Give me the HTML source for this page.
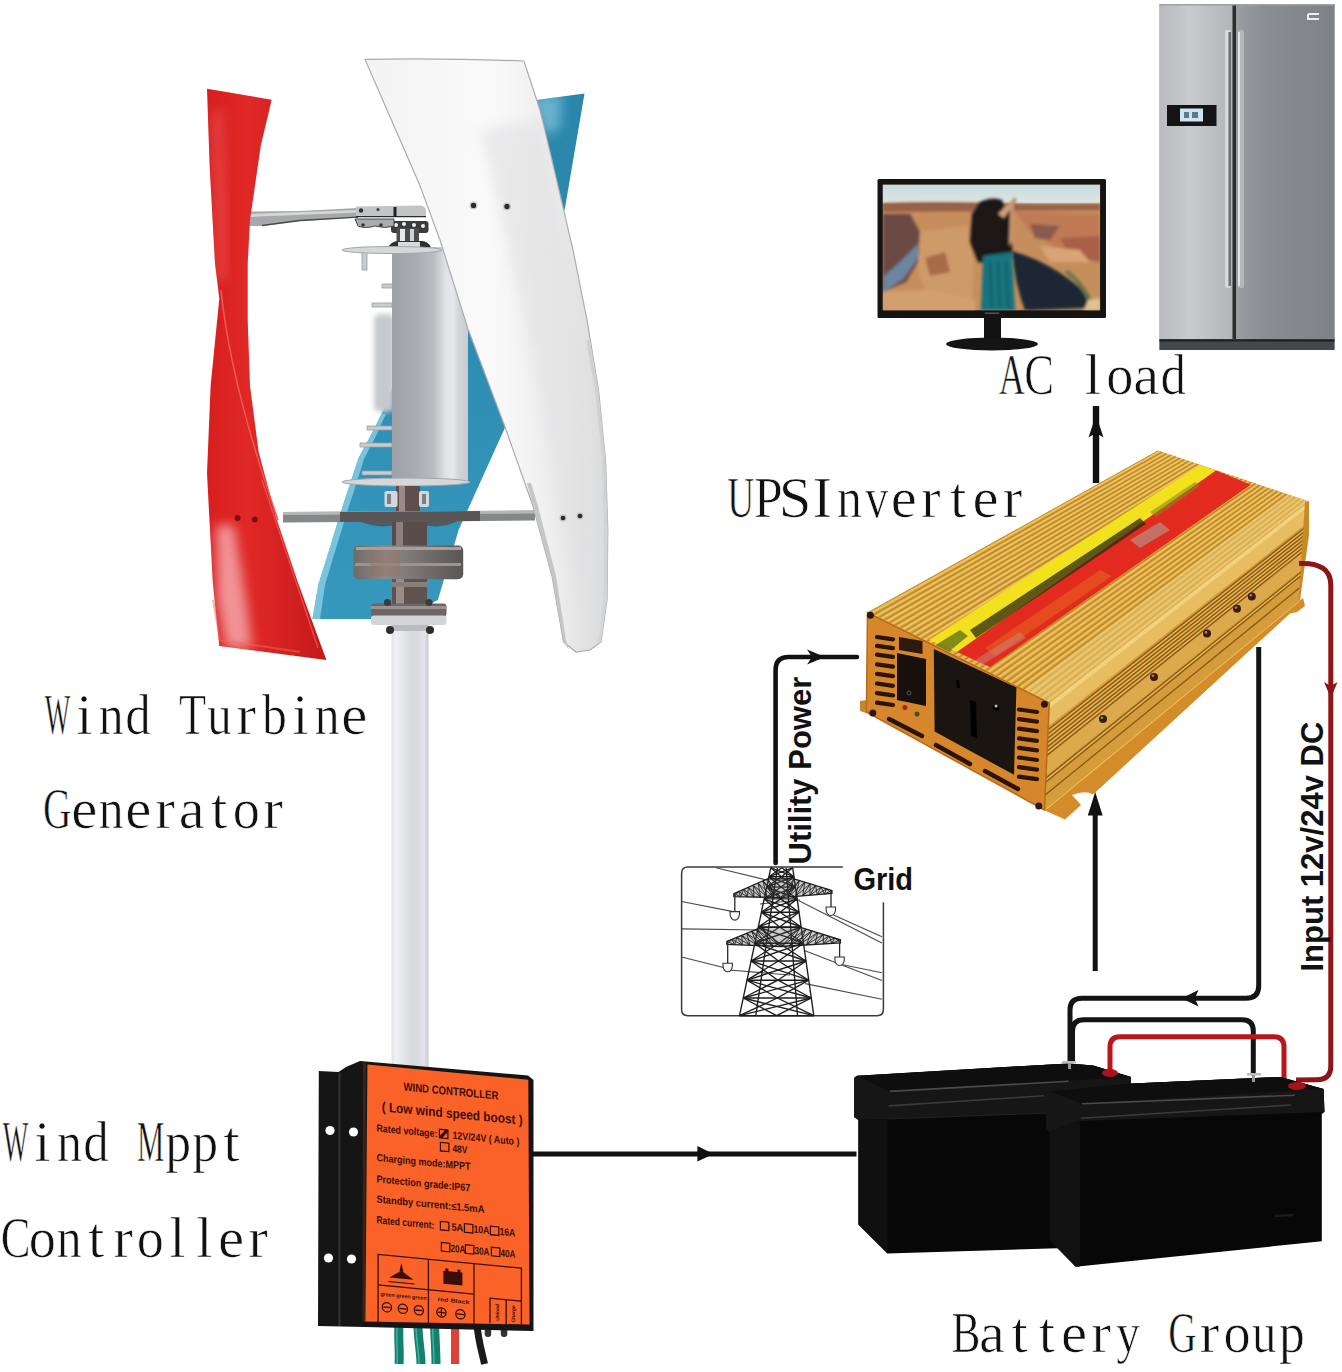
<!DOCTYPE html>
<html><head><meta charset="utf-8"><title>Wind turbine system</title><style>
html,body{margin:0;padding:0;background:#fff;overflow:hidden;}
svg{display:block}
</style></head><body>
<svg width="1342" height="1372" viewBox="0 0 1342 1372">
<defs>
  <linearGradient id="gRed" x1="0" y1="0" x2="1" y2="0">
    <stop offset="0" stop-color="#d81f1f"/>
    <stop offset="0.35" stop-color="#e02826"/>
    <stop offset="1" stop-color="#c41a1a"/>
  </linearGradient>
  <linearGradient id="gBlue" x1="0" y1="0" x2="0" y2="1">
    <stop offset="0" stop-color="#2a86ab"/>
    <stop offset="0.5" stop-color="#2e8db3"/>
    <stop offset="1" stop-color="#3798be"/>
  </linearGradient>
  <linearGradient id="gWhite" x1="0" y1="0" x2="1" y2="0">
    <stop offset="0" stop-color="#f3f3f3"/>
    <stop offset="0.5" stop-color="#fafafa"/>
    <stop offset="0.8" stop-color="#ededed"/>
    <stop offset="1" stop-color="#d9d9d9"/>
  </linearGradient>
  <linearGradient id="gCyl" x1="0" y1="0" x2="1" y2="0">
    <stop offset="0" stop-color="#9da1a7"/>
    <stop offset="0.3" stop-color="#a8acb1"/>
    <stop offset="0.55" stop-color="#b9bcc1"/>
    <stop offset="0.7" stop-color="#dfe1e4"/>
    <stop offset="0.8" stop-color="#e6e8eb"/>
    <stop offset="0.88" stop-color="#d2d4d8"/>
    <stop offset="1" stop-color="#c9cbce"/>
  </linearGradient>
  <linearGradient id="gPole" x1="0" y1="0" x2="1" y2="0">
    <stop offset="0" stop-color="#e2e3e6"/>
    <stop offset="0.12" stop-color="#eff0f3"/>
    <stop offset="0.35" stop-color="#e3e3e7"/>
    <stop offset="0.55" stop-color="#d8d9dd"/>
    <stop offset="0.75" stop-color="#dddce3"/>
    <stop offset="0.88" stop-color="#e5e3ec"/>
    <stop offset="0.96" stop-color="#d2d2d6"/>
    <stop offset="1" stop-color="#c6c6ca"/>
  </linearGradient>
  <linearGradient id="gMetal" x1="0" y1="0" x2="0" y2="1">
    <stop offset="0" stop-color="#8c8c8c"/>
    <stop offset="0.4" stop-color="#a5a5a5"/>
    <stop offset="1" stop-color="#5e5e5e"/>
  </linearGradient>
  <linearGradient id="gDisc" x1="0" y1="0" x2="1" y2="0">
    <stop offset="0" stop-color="#6d6a68"/>
    <stop offset="0.3" stop-color="#8f8b88"/>
    <stop offset="0.6" stop-color="#77726f"/>
    <stop offset="1" stop-color="#5a5654"/>
  </linearGradient>
  <linearGradient id="gFridgeL" x1="0" y1="0" x2="1" y2="0">
    <stop offset="0" stop-color="#b9babd"/>
    <stop offset="0.4" stop-color="#c9cacd"/>
    <stop offset="1" stop-color="#b2b4b7"/>
  </linearGradient>
  <linearGradient id="gFridgeR" x1="0" y1="0" x2="1" y2="0">
    <stop offset="0" stop-color="#9a9da1"/>
    <stop offset="0.3" stop-color="#8a8e92"/>
    <stop offset="1" stop-color="#7e8286"/>
  </linearGradient>
  <linearGradient id="gCanyon" x1="0" y1="0" x2="0" y2="1">
    <stop offset="0" stop-color="#a9866a"/>
    <stop offset="0.5" stop-color="#b97f52"/>
    <stop offset="1" stop-color="#c08a5e"/>
  </linearGradient>
  <linearGradient id="gSky" x1="0" y1="0" x2="0" y2="1">
    <stop offset="0" stop-color="#c7dbe0"/>
    <stop offset="1" stop-color="#dfe6e2"/>
  </linearGradient>
  <linearGradient id="gGoldTop" x1="0" y1="0" x2="1" y2="1">
    <stop offset="0" stop-color="#d9a23c"/>
    <stop offset="1" stop-color="#e6b55a"/>
  </linearGradient>
  <linearGradient id="gGoldSide" x1="0" y1="0" x2="0" y2="1">
    <stop offset="0" stop-color="#d4982f"/>
    <stop offset="1" stop-color="#c2841f"/>
  </linearGradient>
  <linearGradient id="gOrange" x1="0" y1="0" x2="1" y2="1">
    <stop offset="0" stop-color="#ff6a2c"/>
    <stop offset="1" stop-color="#f7622a"/>
  </linearGradient>
  <filter id="blur3" x="-30%" y="-30%" width="160%" height="160%"><feGaussianBlur stdDeviation="6"/></filter>
  <filter id="blur2" x="-40%" y="-20%" width="180%" height="140%"><feGaussianBlur stdDeviation="2.5"/></filter>
</defs>
<rect x="0" y="0" width="1342" height="1372" fill="#ffffff"/>

<!-- blue blade (back) -->
<path d="M533,100.6 L584.5,93.6 L565.5,205 L545,300 L520,390 L505.3,427 L458.6,530 L437.9,600 L400,619 L312.4,619 L318.5,584 L327,557 L336,527.7 L343,505 L350,484 L358.7,457.7 L371,435 L381.5,414 L395,380 L430,300 L462,230 L490,160 L515,120 Z" fill="url(#gBlue)"/>
<clipPath id="bclip"><path d="M533,100.6 L584.5,93.6 L565.5,205 L520,205 Z"/></clipPath><g clip-path="url(#bclip)"><path d="M530,96 L562,94 L560,128 L545,136 Z" fill="#8ccbe2" opacity="0.65" filter="url(#blur3)"/></g>
<path d="M312.4,619 L318.5,584 L327,557 L336,527.7 L343,505 L350,484 L358.7,457.7 L371,435 L381.5,414 L386,414 L376,436 L364,459 L356,485 L349,506 L342,529 L333,558 L325,585 L320,619 Z" fill="#8fd3e8" opacity="0.75"/>
<!-- generator fins left of cylinder -->
<g fill="#c9cbce" stroke="#9a9da0" stroke-width="0.8">
  <rect x="374" y="314" width="20" height="98" rx="6" fill="#c6c9cd" stroke="none" filter="url(#blur2)"/>
  <path d="M382,284 h11 v4 h-11 z"/>
  <path d="M372,303 h20 v4 h-20 z"/>
  <path d="M367,426 h25 v4 h-25 z"/>
  <path d="M360,443 h32 v4 h-32 z"/>
  <path d="M362,471 h30 v4 h-30 z"/>
  <rect x="362" y="250" width="5" height="20"/>
</g>
<!-- top hub neck -->
<rect x="391" y="221" width="37.5" height="12" rx="3" fill="#3a3b3d"/>
<rect x="396.5" y="228" width="22.5" height="16" fill="#4a4c4f"/>
<rect x="400" y="229" width="5" height="14" fill="#e8e9ea"/>
<rect x="410" y="229" width="4" height="14" fill="#d0d2d4"/>
<path d="M388,247.5 Q392,240 400,241 L420,241 Q428,240 431,247.5 Z" fill="#2e2f31"/>
<rect x="398" y="242" width="22" height="5" fill="#d9dadb"/>
<circle cx="396" cy="225" r="2" fill="#f0f0f0"/><circle cx="404" cy="224" r="2" fill="#f0f0f0"/><circle cx="414" cy="225" r="2" fill="#f0f0f0"/><circle cx="423" cy="226" r="2" fill="#f0f0f0"/>
<!-- cylinder -->
<rect x="392" y="247" width="76" height="236" fill="url(#gCyl)"/>
<!-- top disc -->
<ellipse cx="392" cy="250" rx="50" ry="3.5" fill="#d5d7d9" stroke="#a3a6a9" stroke-width="1"/>
<!-- bottom disc -->
<ellipse cx="406" cy="482" rx="64" ry="4" fill="#d5d7d9" stroke="#a3a6a9" stroke-width="1"/>
<!-- top arm -->
<path d="M246,211.5 L300,211 L358,208 L358,217.5 L300,221 L262,226 L246,226 Z" fill="#a6a8ab"/>
<path d="M250,214 L358,210 L358,212.5 L250,217 Z" fill="#d4d6d8"/>
<path d="M262,225.5 L300,220.5 L358,217.2" stroke="#4a4a4a" stroke-width="1.3" fill="none"/>
<ellipse cx="247" cy="218.5" rx="3" ry="7.5" fill="#c7c9cb"/>
<!-- top hub bracket -->
<path d="M356,206.5 L420,205.5 Q426,206 426,211 L426,216.6 L356,216.6 Z" fill="#c2c4c6"/>
<path d="M356,216.6 L426,216.6" stroke="#2a2a2a" stroke-width="1.4"/>
<circle cx="361" cy="210.5" r="2.2" fill="#333"/><circle cx="378" cy="209.5" r="1.6" fill="#444"/>
<rect x="393.5" y="207" width="3" height="9.5" fill="#222"/>
<path d="M355,219 L394,219 L394,226 Q385,229 375,226 Q365,229 358,226 Z" fill="#a9abad" stroke="#3a3a3a" stroke-width="0.9"/>
<circle cx="363" cy="225" r="1.8" fill="#333"/><circle cx="381" cy="225" r="1.8" fill="#333"/>
<!-- red blade -->
<path d="M207,88.7 L209.7,167.5 L215,263.6 L219.3,298.6 L210.6,386 L207,473.5 L212.8,582.8 L219.3,646 L326.4,660 L298,582.8 L276,517.2 L258.6,451.7 L250,386 L247.7,320.5 L247.7,263.6 L250,220 L260.8,145.6 L271.7,99.7 Z" fill="url(#gRed)"/>
<clipPath id="rclip"><path d="M207,88.7 L209.7,167.5 L215,263.6 L219.3,298.6 L210.6,386 L207,473.5 L212.8,582.8 L219.3,646 L326.4,660 L298,582.8 L276,517.2 L258.6,451.7 L250,386 L247.7,320.5 L247.7,263.6 L250,220 L260.8,145.6 L271.7,99.7 Z"/></clipPath>
<g clip-path="url(#rclip)">
<path d="M216,525 L234,525 L246,600 L252,648 L226,648 L217,600 Z" fill="#f5b0b4" opacity="0.8" filter="url(#blur3)"/>
<path d="M212,110 L222,110 L226,200 L226,280 L216,280 Z" fill="#ec5a58" opacity="0.6" filter="url(#blur3)"/>
</g>
<path d="M221,290 C228,360 250,440 278,520" stroke="#ee5a55" stroke-width="1.5" fill="none"/>
<path d="M262,480 L318,648" stroke="#f06058" stroke-width="1.2" fill="none" opacity="0.8"/>
<path d="M213,600 L220,640 L300,652" stroke="#f06a60" stroke-width="2" fill="none" opacity="0.5"/>
<circle cx="237.6" cy="518" r="3" fill="#7a1010"/>
<circle cx="254.8" cy="519.5" r="3" fill="#7a1010"/>
<!-- shaft below cylinder -->
<rect x="396" y="486" width="24" height="30" fill="#5e4f4c"/>
<rect x="399" y="486" width="6" height="30" fill="#9a8a86"/>
<rect x="384.5" y="491" width="13" height="16" rx="2" fill="#d4d8dc"/>
<rect x="419" y="491" width="10" height="16" rx="2" fill="#d4d8dc"/>
<rect x="387" y="494" width="4" height="10" fill="#7a8088"/>
<rect x="422" y="494" width="4" height="10" fill="#7a8088"/>
<!-- lower arm -->
<path d="M283,512 L535,510.5 L535,520.5 L283,522.5 Z" fill="#858789"/>
<path d="M283,512 L535,510.5 L535,513.5 L283,515 Z" fill="#b4b6b8"/>
<path d="M340,512 L480,511 L480,521 L340,522 Z" fill="#5a5452"/>
<path d="M358,521 Q380,530 400,524 Q410,528 420,524 Q440,530 458,521 Z" fill="#4e5a66"/>
<rect x="392" y="522" width="35" height="25" fill="#5a4c49"/>
<rect x="396" y="522" width="7" height="25" fill="#8e807c"/>
<!-- hub disc -->
<rect x="353.5" y="545.6" width="109.7" height="33.6" rx="5" fill="url(#gDisc)"/>
<rect x="356" y="547" width="105" height="3" fill="#a8a09c"/>
<rect x="355" y="563" width="106" height="3" fill="#9c928e"/>
<rect x="370" y="550" width="30" height="26" fill="#9a6a5c" opacity="0.35"/>
<!-- shaft to flange -->
<rect x="392" y="579" width="35" height="25" fill="#5f524f"/>
<rect x="396" y="579" width="8" height="25" fill="#9a8c88"/>
<rect x="392" y="582" width="35" height="5" fill="#8a7e7a"/>
<!-- flange -->
<rect x="371" y="603.5" width="75.5" height="13" rx="3" fill="#6e6664"/>
<rect x="371" y="606" width="75.5" height="3" fill="#9a9290"/>
<rect x="371" y="615.5" width="75.5" height="9.5" rx="3" fill="#d3d4d6"/>
<circle cx="387.5" cy="602.5" r="3.6" fill="#3c3a3a"/>
<circle cx="429" cy="602.5" r="3.6" fill="#3c3a3a"/>
<!-- white blade (front) -->
<path d="M365,59.4 Q440,58 523.9,61 L540,110 L556.6,180 L573,250 L587,320 L598.5,390 L605.5,460 L607.8,530 L607,600 L601,642 L590,650 L576,652 L563.5,642 L552,576 L533,506 L505,427 L468,329 L440,240 L419.5,184.4 Z" fill="url(#gWhite)" stroke="#a9abad" stroke-width="1.2"/>
<path d="M590,340 L598.5,390 L605.5,460 L607.8,530 L607,600 L601,642 L598,644 L603,600 L604,530 L602,460 L595,390 L586,340 Z" fill="#cfd1d3"/>
<path d="M527,483 L533,506 L552,576 L563.5,642 L569,650 L566,640 L556,576 L538,506 L531,483 Z" fill="#c4c6c8"/>
<clipPath id="wclip"><path d="M365,59.4 Q440,58 523.9,61 L540,110 L556.6,180 L573,250 L587,320 L598.5,390 L605.5,460 L607.8,530 L607,600 L601,642 L590,650 L576,652 L563.5,642 L552,576 L533,506 L505,427 L468,329 L440,240 L419.5,184.4 Z"/></clipPath>
<g clip-path="url(#wclip)"><path d="M480,130 Q525,300 560,520 Q585,600 590,640 L604,640 Q604,560 600,480 Q590,380 566,240 L545,120 Z" fill="#dfe0e2" opacity="0.6" filter="url(#blur3)"/></g>
<g fill="#2a2a2a" stroke="#c8c8c8" stroke-width="1.3">
<circle cx="473.5" cy="205.4" r="3.3"/>
<circle cx="507" cy="206.5" r="3.3"/>
<circle cx="563" cy="518" r="3"/>
<circle cx="580" cy="516" r="3"/>
</g>

<!-- pole -->
<rect x="391.5" y="625" width="37" height="445" fill="url(#gPole)"/>
<rect x="391.5" y="625" width="37" height="6" fill="#b9bbbe"/>
<circle cx="390" cy="630" r="4" fill="#2e2c2c"/>
<circle cx="430" cy="630" r="4" fill="#2e2c2c"/>

<!-- controller wires -->
<g stroke-linecap="butt" fill="none">
  <path d="M399,1324 C398,1340 400,1352 399,1364" stroke="#14806f" stroke-width="9"/>
  <path d="M418,1324 C418,1340 421,1352 421,1364" stroke="#14806f" stroke-width="9"/>
  <path d="M434.5,1324 C435,1340 436,1352 436,1364" stroke="#14806f" stroke-width="9"/>
  <path d="M455,1324 L455,1364" stroke="#e0403a" stroke-width="8"/>
  <path d="M477,1324 C478,1340 482,1352 484.5,1364" stroke="#1a1a1a" stroke-width="7"/>
  <path d="M397,1326 C396,1340 398,1352 397,1364" stroke="#3fb3a0" stroke-width="1.5"/>
  <path d="M416,1326 C416,1340 419,1352 419,1364" stroke="#3fb3a0" stroke-width="1.5"/>
  <path d="M432.5,1326 C433,1340 434,1352 434,1364" stroke="#3fb3a0" stroke-width="1.5"/>
</g>
<rect x="484.7" y="1327" width="6.5" height="10" rx="3" fill="#333"/>
<rect x="500.8" y="1327" width="6.5" height="10" rx="3" fill="#333"/>
<!-- black body / bracket -->
<path d="M318.8,1071 L338.5,1072 L346,1067 L360,1061 L528,1075.5 L533.5,1080 L533.5,1331 L365,1327 L318,1326 Z" fill="#151515"/>
<path d="M338.5,1073 L340.5,1072 L340.5,1326 L338.5,1326 Z" fill="#333"/>
<path d="M363,1062 L366,1063 L365,1322 L362.5,1322 Z" fill="#3a2418"/>
<circle cx="330" cy="1130.5" r="4.6" fill="#ffffff"/>
<circle cx="353.5" cy="1132" r="4.6" fill="#ffffff"/>
<circle cx="328.5" cy="1258" r="4.6" fill="#ffffff"/>
<circle cx="351.5" cy="1259" r="4.6" fill="#ffffff"/>
<!-- orange face -->
<path d="M367.4,1064.4 L528.3,1079.8 L529.5,1324.5 L365.4,1321.5 Z" fill="#fb6228"/>
<g transform="translate(367.4,1064.4) skewY(5.46)" font-family="Liberation Sans" font-weight="bold" fill="#3a0e06">
  <text x="83.5" y="22.7" font-size="11.5" text-anchor="middle" textLength="95" lengthAdjust="spacingAndGlyphs">WIND CONTROLLER</text>
  <text x="84.8" y="45.5" font-size="13.5" text-anchor="middle" textLength="141" lengthAdjust="spacingAndGlyphs">( Low wind speed boost )</text>
  <g font-size="10.5">
    <text x="9" y="66.3" textLength="61" lengthAdjust="spacingAndGlyphs">Rated voltage:</text>
    <rect x="72" y="58" width="8.5" height="8.5" fill="none" stroke="#2a0c04" stroke-width="1.2"/>
    <path d="M73,66 L80,58" stroke="#2a0c04" stroke-width="3"/>
    <text x="85" y="66.3" textLength="67" lengthAdjust="spacingAndGlyphs">12V/24V ( Auto )</text>
    <rect x="73" y="71" width="8.5" height="8.5" fill="none" stroke="#2a0c04" stroke-width="1.2"/>
    <text x="85" y="79.5" textLength="15" lengthAdjust="spacingAndGlyphs">48V</text>
    <text x="9" y="95.8" textLength="94" lengthAdjust="spacingAndGlyphs">Charging mode:MPPT</text>
    <text x="9" y="117.2" textLength="94" lengthAdjust="spacingAndGlyphs">Protection grade:IP67</text>
    <text x="9" y="137.3" textLength="108" lengthAdjust="spacingAndGlyphs">Standby current:≤1.5mA</text>
    <text x="9" y="158.1" textLength="58" lengthAdjust="spacingAndGlyphs">Rated current:</text>
    <rect x="73" y="150" width="8.5" height="8.5" fill="none" stroke="#2a0c04" stroke-width="1.2"/>
    <text x="84" y="158.1" textLength="12" lengthAdjust="spacingAndGlyphs">5A</text>
    <rect x="97" y="150" width="8.5" height="8.5" fill="none" stroke="#2a0c04" stroke-width="1.2"/>
    <text x="106" y="158.1" textLength="16" lengthAdjust="spacingAndGlyphs">10A</text>
    <rect x="123" y="150" width="8.5" height="8.5" fill="none" stroke="#2a0c04" stroke-width="1.2"/>
    <text x="132" y="158.1" textLength="16" lengthAdjust="spacingAndGlyphs">16A</text>
    <rect x="74" y="171" width="8.5" height="8.5" fill="none" stroke="#2a0c04" stroke-width="1.2"/>
    <text x="83" y="179.4" textLength="15" lengthAdjust="spacingAndGlyphs">20A</text>
    <rect x="98" y="171" width="8.5" height="8.5" fill="none" stroke="#2a0c04" stroke-width="1.2"/>
    <text x="107" y="179.4" textLength="15" lengthAdjust="spacingAndGlyphs">30A</text>
    <rect x="124" y="171" width="8.5" height="8.5" fill="none" stroke="#2a0c04" stroke-width="1.2"/>
    <text x="133" y="179.4" textLength="15" lengthAdjust="spacingAndGlyphs">40A</text>
  </g>
  <!-- bottom table -->
  <g fill="none" stroke="#3a0e04" stroke-width="1.3">
    <path d="M10.7,258 L10.7,189 L154,189 L154,245"/>
    <path d="M61,189 L61,255"/>
    <path d="M106.6,189 L106.6,250"/>
    <path d="M10.7,219.5 L106.6,219.5"/>
    <path d="M122.6,247 L122.6,222 L154,222"/>
    <path d="M138.8,222 L138.8,247"/>
  </g>
  <!-- turbine icon -->
  <path d="M34,195 L36,204 L32,204 Z M22,211 L34,203 L46,211 Z" fill="#3a0e06"/>
  <path d="M21,215 L47,215" stroke="#2a0c04" stroke-width="1"/>
  <!-- battery icon -->
  <rect x="76" y="199" width="19" height="13" fill="#3a0e06"/>
  <rect x="78" y="196.5" width="3" height="3" fill="#3a0e06"/>
  <rect x="90" y="196.5" width="3" height="3" fill="#3a0e06"/>
  <g font-size="5.5" fill="#3a0e06">
    <text x="13" y="230" textLength="46" lengthAdjust="spacingAndGlyphs">green green green</text>
    <text x="70" y="230" textLength="32" lengthAdjust="spacingAndGlyphs">red  Black</text>
  </g>
  <g fill="none" stroke="#2a0c04" stroke-width="1.3">
    <circle cx="19.5" cy="241" r="4.6"/>
    <circle cx="35.5" cy="241" r="4.6"/>
    <circle cx="51.5" cy="241" r="4.6"/>
    <circle cx="74" cy="241" r="4.6"/>
    <circle cx="93" cy="241" r="4.6"/>
    <path d="M16,241 h7 M32,241 h7 M48,241 h7 M70.5,241 h7 M74,237.5 v7 M89.5,241 h7"/>
  </g>
  <g font-size="5" fill="#3a0e06">
    <text transform="translate(132,244) rotate(-90)">Unload</text>
    <text transform="translate(148,244) rotate(-90)">Charge</text>
  </g>
</g>

<!-- monitor -->
<rect x="984" y="316" width="17" height="25" fill="#111"/>
<ellipse cx="992" cy="344" rx="46" ry="6.5" fill="#141414"/>
<rect x="877.5" y="179" width="228.5" height="139" rx="1.5" fill="#141414"/>
<clipPath id="scr"><rect x="882.6" y="184.5" width="217.6" height="126"/></clipPath>
<filter id="blur1" x="-10%" y="-10%" width="120%" height="120%"><feGaussianBlur stdDeviation="1.6"/></filter>
<g clip-path="url(#scr)">
  <rect x="882.6" y="184.5" width="217.6" height="126" fill="#c68e5c"/>
  <rect x="882.6" y="184.5" width="217.6" height="19" fill="url(#gSky)"/>
  <g filter="url(#blur1)">
    <path d="M882.6,203 Q940,201 990,203 T1100.4,204 L1100.4,210 L882.6,212 Z" fill="#96624a"/>
    <!-- right canyon textures -->
    <path d="M1015,212 L1100,214 L1100,262 L1060,250 L1030,232 Z" fill="#c07a52"/>
    <path d="M1030,224 L1060,226 L1050,240 L1035,238 Z" fill="#8a5a50"/>
    <path d="M1060,238 L1100,236 L1100,262 L1070,256 Z" fill="#a86048"/>
    <path d="M1040,246 L1080,250 L1090,262 L1050,262 Z" fill="#d8a476"/>
    <!-- left dark area -->
    <path d="M882.6,214 L910,214 L920,232 L918,262 L906,282 L882.6,292 Z" fill="#6a4a42"/>
    <path d="M884,276 L900,262 L918,244 L918,258 L904,278 L884,292 Z" fill="#6c86a0"/>
    <!-- front rock -->
    <path d="M920,232 L968,226 L974,262 L972,300 L930,300 L918,272 Z" fill="#cf9a6a"/>
    <path d="M925,258 L945,252 L950,272 L930,276 Z" fill="#a86a4a"/>
    <path d="M882.6,292 L930,290 L975,300 L975,310.5 L882.6,310.5 Z" fill="#d2a070"/>
    <!-- dark river right -->
    <path d="M1012,251 Q1050,262 1080,288 Q1090,300 1088,308 L1025,310.5 Q1015,285 1012,251 Z" fill="#1f2734"/>
    <path d="M1064,272 Q1084,288 1090,306 L1094,306 Q1088,286 1068,270 Z" fill="#6a7448"/>
    <path d="M1088,300 L1100.4,298 L1100.4,310.5 L1084,310.5 Z" fill="#e2c292"/>
  </g>
  <!-- woman -->
  <g filter="url(#blur1)">
    <path d="M980,202 Q992,196 1002,200 L1006,212 L1012,200 L1016,198 L1014,214 L1011,236 L1013,258 L1004,264 L990,264 L978,262 L970,242 L972,214 Z" fill="#1d1513"/>
    <path d="M998,214 L1013,199 L1016,201 L1004,218 Z" fill="#d0a07c"/>
    <path d="M1010,205 L1015,200 L1013,240 L1009,246 Z" fill="#c8946e"/>
    <path d="M983,256 L1012,252 L1015,310.5 L981,310.5 Z" fill="#157480"/>
    <path d="M990,262 L992,308 M998,262 L1000,308 M1006,262 L1008,308" stroke="#0c4c56" stroke-width="1.4"/>
  </g>
</g>
<rect x="985" y="312.5" width="14" height="1.5" fill="#555"/>

<!-- fridge -->
<rect x="1159.5" y="4" width="175" height="346" fill="#8f9296"/>
<rect x="1159.5" y="4" width="74" height="336" fill="url(#gFridgeL)"/>
<rect x="1235.5" y="4" width="99" height="336" fill="url(#gFridgeR)"/>
<rect x="1232.5" y="4" width="3.5" height="336" fill="#2a2c2e"/>
<rect x="1159.5" y="339" width="175" height="11" fill="#45484b"/><rect x="1159.5" y="339.5" width="175" height="2" fill="#1e1f20"/>
<rect x="1159.5" y="4" width="175" height="1.5" fill="#9fa2a5"/>
<!-- handles -->
<rect x="1225" y="30" width="6" height="258" rx="2" fill="#d7d9db"/>
<rect x="1228.5" y="32" width="2.5" height="254" fill="#6c6f72"/>
<rect x="1238" y="30" width="6" height="258" rx="2" fill="#b4b7ba"/>
<rect x="1238" y="32" width="2" height="254" fill="#e2e4e6"/>
<!-- display -->
<rect x="1167" y="105" width="49.5" height="21" fill="#141416"/>
<rect x="1180" y="108.5" width="23" height="13" fill="#cfe4ee"/>
<rect x="1184" y="112" width="5" height="6" fill="#5a7a90"/>
<rect x="1192" y="112" width="6" height="6" fill="#5a7a90"/>
<!-- logo -->
<path d="M1308,14 h11 M1308,14 v5 h11" stroke="#eceef0" stroke-width="2" fill="none"/>

<!-- inverter -->
<path d="M860,701 L866.4,700 L866.4,713 L860,711 Z" fill="#c9862a"/>
<path d="M1044.4,810 L1298.5,601.5 L1303,598 L1305,606 L1297,612 L1290,613.5 L1093,794.5 Q1085,790 1072,795 L1081,805 L1065,819.5 L1046,811 Z" fill="#d48c2a"/>
<path d="M1046,809 L1298.5,601.5" stroke="#f2c462" stroke-width="1.6"/>
<path d="M867.5,612.5 L1158.0,450.5 L1309.0,501.5 L1049.3,703.0 Z" fill="#dcab4c"/>
<clipPath id="topclip"><path d="M867.5,612.5 L1158.0,450.5 L1309.0,501.5 L1049.3,703.0 Z"/></clipPath>
<g clip-path="url(#topclip)"><path d="M867.5,612.5 L1158.0,450.5 M872.8,615.2 L1162.4,452.0 M878.2,617.8 L1166.9,453.5 M883.5,620.5 L1171.3,455.0 M888.9,623.1 L1175.8,456.5 M894.2,625.8 L1180.2,458.0 M899.6,628.5 L1184.6,459.5 M904.9,631.1 L1189.1,461.0 M910.3,633.8 L1193.5,462.5 M915.6,636.5 L1198.0,464.0 M921.0,639.1 L1202.4,465.5 M926.3,641.8 L1206.9,467.0 M931.7,644.4 L1211.3,468.5 M937.0,647.1 L1215.7,470.0 M942.4,649.8 L1220.2,471.5 M947.7,652.4 L1224.6,473.0 M953.1,655.1 L1229.1,474.5 M958.4,657.8 L1233.5,476.0 M963.7,660.4 L1237.9,477.5 M969.1,663.1 L1242.4,479.0 M974.4,665.7 L1246.8,480.5 M979.8,668.4 L1251.3,482.0 M985.1,671.1 L1255.7,483.5 M990.5,673.7 L1260.1,485.0 M995.8,676.4 L1264.6,486.5 M1001.2,679.0 L1269.0,488.0 M1006.5,681.7 L1273.5,489.5 M1011.9,684.4 L1277.9,491.0 M1017.2,687.0 L1282.4,492.5 M1022.6,689.7 L1286.8,494.0 M1027.9,692.4 L1291.2,495.5 M1033.3,695.0 L1295.7,497.0 M1038.6,697.7 L1300.1,498.5 M1044.0,700.3 L1304.6,500.0 M1049.3,703.0 L1309.0,501.5" stroke="#c08a28" stroke-width="1.6" fill="none"/>
<path d="M869.9,613.7 L1160.0,451.2 M875.3,616.4 L1164.4,452.7 M880.6,619.0 L1168.9,454.2 M885.9,621.7 L1173.3,455.7 M891.3,624.3 L1177.8,457.2 M896.6,627.0 L1182.2,458.7 M902.0,629.7 L1186.6,460.2 M907.3,632.3 L1191.1,461.7 M912.7,635.0 L1195.5,463.2 M918.0,637.7 L1200.0,464.7 M923.4,640.3 L1204.4,466.2 M928.7,643.0 L1208.9,467.7 M934.1,645.6 L1213.3,469.2 M939.4,648.3 L1217.7,470.7 M944.8,651.0 L1222.2,472.2 M950.1,653.6 L1226.6,473.7 M955.5,656.3 L1231.1,475.2 M960.8,658.9 L1235.5,476.7 M966.2,661.6 L1239.9,478.2 M971.5,664.3 L1244.4,479.7 M976.8,666.9 L1248.8,481.2 M982.2,669.6 L1253.3,482.7 M987.5,672.3 L1257.7,484.2 M992.9,674.9 L1262.1,485.7 M998.2,677.6 L1266.6,487.2 M1003.6,680.2 L1271.0,488.7 M1008.9,682.9 L1275.5,490.2 M1014.3,685.6 L1279.9,491.7 M1019.6,688.2 L1284.4,493.2 M1025.0,690.9 L1288.8,494.7 M1030.3,693.6 L1293.2,496.2 M1035.7,696.2 L1297.7,497.7 M1041.0,698.9 L1302.1,499.2 M1046.4,701.5 L1306.6,500.7" stroke="#f0c864" stroke-width="1.6" fill="none" opacity="0.85"/>
<path d="M929,640 L1200,465 L1216,470.5 L957,652 Z" fill="#f2e21e"/>
<path d="M957,652 L1216,470.5 L1250.8,484.7 L990,667 Z" fill="#e22a1e"/>
<path d="M934,646 L960,630 L968,636 L946,654 Z" fill="#6f7a18" opacity="0.85"/>
<path d="M970,630 L1140,518 L1146,524 L976,638 Z" fill="#2e2a10" opacity="0.75"/>
<path d="M1150,512 L1195,482 L1200,486 L1156,517 Z" fill="#8a8a20" opacity="0.6"/>
<path d="M985,648 L1100,570 L1112,576 L995,656 Z" fill="#e8741e" opacity="0.45"/>
<path d="M975,660 L1020,632 L1026,638 L982,665 Z" fill="#c88a7a" opacity="0.5"/>
<path d="M1130,540 L1160,522 L1170,530 L1140,548 Z" fill="#b0a090" opacity="0.6"/>
<path d="M1023.8,690.3 L1049.3,703.0 L1309.0,501.5 L1287.9,494.4 Z" fill="#eccb78" opacity="0.55"/>
</g>
<path d="M867.5,612.5 L1049.3,703.0" stroke="#f1c663" stroke-width="2"/>
<path d="M1049.3,703.0 L1309.0,501.5 L1298.5,601.5 L1044.4,810.0 Z" fill="#d7a03e"/>
<clipPath id="sideclip"><path d="M1049.3,703.0 L1309.0,501.5 L1298.5,601.5 L1044.4,810.0 Z"/></clipPath>
<g clip-path="url(#sideclip)">
<path d="M1049.3,703.0 L1309.0,501.5 L1306.7,523.5 L1048.2,726.5 Z" fill="#e8bd62" opacity="1"/>
<path d="M1049.3,703.0 L1309.0,501.5 L1308.5,506.5 L1049.1,708.4 Z" fill="#f3d27e" opacity="1"/>
<path d="M1048.2,726.5 L1306.7,523.5 L1303.8,551.5 L1046.8,756.5 Z" fill="#d39a3a" opacity="1"/>
<path d="M1046.8,756.5 L1303.8,551.5 L1301.9,569.5 L1046.0,775.8 Z" fill="#dcaa4c" opacity="1"/>
<path d="M1046.0,775.8 L1301.9,569.5 L1298.5,601.5 L1044.4,810.0 Z" fill="#d59c3c" opacity="1"/>
<path d="M1048.1,729.8 L1306.4,526.5 M1047.9,734.0 L1306.0,530.5 M1047.7,738.3 L1305.5,534.5 M1047.5,742.6 L1305.1,538.5 M1047.3,746.9 L1304.7,542.5 M1047.1,751.1 L1304.3,546.5 M1046.9,755.4 L1303.9,550.5 M1045.9,777.9 L1301.7,571.5 M1045.7,782.2 L1301.2,575.5 M1045.1,795.0 L1300.0,587.5" stroke="#7a4c10" stroke-width="1.3" fill="none" opacity="0.85"/>
<path d="M1048.0,731.9 L1306.2,528.5 M1047.8,736.2 L1305.7,532.5 M1047.6,740.5 L1305.3,536.5 M1047.4,744.7 L1304.9,540.5 M1047.2,749.0 L1304.5,544.5 M1047.0,753.3 L1304.1,548.5 M1045.8,780.0 L1301.4,573.5" stroke="#f0c868" stroke-width="1" fill="none" opacity="0.8"/>
</g>
<circle cx="1103" cy="719" r="4" fill="#3a1c10"/><circle cx="1102" cy="717.8" r="1.3" fill="#a08070"/>
<circle cx="1154" cy="677" r="4" fill="#3a1c10"/><circle cx="1153" cy="675.8" r="1.3" fill="#a08070"/>
<circle cx="1207" cy="633.6" r="4" fill="#3a1c10"/><circle cx="1206" cy="632.4" r="1.3" fill="#a08070"/>
<circle cx="1237" cy="608.8" r="4" fill="#3a1c10"/><circle cx="1236" cy="607.5999999999999" r="1.3" fill="#a08070"/>
<circle cx="1251.8" cy="596.5" r="4" fill="#3a1c10"/><circle cx="1250.8" cy="595.3" r="1.3" fill="#a08070"/>
<path d="M867.5,612.5 L1049.3,703.0 L1044.4,810.0 L866.4,712.0 Z" fill="#d6872c"/>
<path d="M867.5,612.5 L1049.3,703.0 L1044.4,810.0 L866.4,712.0 Z" fill="none" stroke="#b86a18" stroke-width="1.5"/>
<path d="M877,637.0 L893,639.3" stroke="#2a1408" stroke-width="4.2" stroke-linecap="round"/>
<path d="M877,645.8 L893,648.1" stroke="#2a1408" stroke-width="4.2" stroke-linecap="round"/>
<path d="M877,654.6 L893,656.9" stroke="#2a1408" stroke-width="4.2" stroke-linecap="round"/>
<path d="M877,664.3 L893,666.6" stroke="#2a1408" stroke-width="4.2" stroke-linecap="round"/>
<path d="M877,673.9 L893,676.2" stroke="#2a1408" stroke-width="4.2" stroke-linecap="round"/>
<path d="M877,683.5 L893,685.8" stroke="#2a1408" stroke-width="4.2" stroke-linecap="round"/>
<path d="M877,693.1 L893,695.4" stroke="#2a1408" stroke-width="4.2" stroke-linecap="round"/>
<path d="M877,702.7 L893,705.0" stroke="#2a1408" stroke-width="4.2" stroke-linecap="round"/>
<path d="M1019,709.5 L1037,712.0" stroke="#2a1408" stroke-width="4.2" stroke-linecap="round"/>
<path d="M1019,719.1 L1037,721.6" stroke="#2a1408" stroke-width="4.2" stroke-linecap="round"/>
<path d="M1019,728.7 L1037,731.2" stroke="#2a1408" stroke-width="4.2" stroke-linecap="round"/>
<path d="M1019,738.3 L1037,740.8" stroke="#2a1408" stroke-width="4.2" stroke-linecap="round"/>
<path d="M1019,747.9 L1037,750.4" stroke="#2a1408" stroke-width="4.2" stroke-linecap="round"/>
<path d="M1019,757.5 L1037,760.0" stroke="#2a1408" stroke-width="4.2" stroke-linecap="round"/>
<path d="M1019,767.1 L1037,769.6" stroke="#2a1408" stroke-width="4.2" stroke-linecap="round"/>
<path d="M1019,776.7 L1037,779.2" stroke="#2a1408" stroke-width="4.2" stroke-linecap="round"/>
<path d="M889,719 L922,736" stroke="#2a1408" stroke-width="4.5" stroke-linecap="round"/>
<path d="M936,745 L970,764" stroke="#2a1408" stroke-width="4.5" stroke-linecap="round"/>
<path d="M985,771 L1018,789" stroke="#2a1408" stroke-width="4.5" stroke-linecap="round"/>
<path d="M899,637 L922.5,641 L922.5,654 L899,650 Z" fill="#2a1a10"/>
<path d="M897,653 L926,659 L926,706 L897,700 Z" fill="#17110d"/>
<circle cx="909" cy="693" r="2" fill="none" stroke="#555" stroke-width="1"/>
<circle cx="904.9" cy="707.5" r="2.5" fill="#b0201a"/>
<circle cx="917" cy="713.9" r="2.5" fill="#4a4a20"/>
<path d="M933.8,648.9 L1016.4,687.4 L1014,774.8 L934.6,731.5 Z" fill="#1b1512"/>
<path d="M956,680 L959,680 L960,688 L957,688 Z M993,705 L999,707 L999,711 L993,709 Z M970,700 L976,702 L977,738 L971,736 Z" fill="#000"/>
<circle cx="996" cy="706" r="1.5" fill="#bbb"/>
<circle cx="870.4" cy="615.2" r="3.5" fill="#2a1a10"/>
<circle cx="1044.4" cy="704.2" r="3.5" fill="#2a1a10"/>
<circle cx="872.8" cy="713" r="3.5" fill="#2a1a10"/>
<circle cx="1038.8" cy="806.1" r="3.5" fill="#2a1a10"/>
<path d="M1305,502 L1309,501.5 L1309,535 L1300,600 L1298.5,601.5 Z" fill="#c98a26"/>

<!-- grid box -->
<path d="M842.8,867 L688,867 Q681.6,867 681.6,873.5 L681.6,1009.5 Q681.6,1015.7 688,1015.7 L877,1015.7 Q883.4,1015.7 883.4,1009.5 L883.4,902.3" fill="none" stroke="#3a3a3a" stroke-width="1.5"/>
<g stroke="#4a4a4a" stroke-width="1.1" fill="none"><path d="M716,867.8 L767.6,880.3"/><path d="M681.6,901.5 L733.2,911.6"/><path d="M681.6,928.9 L762,930"/><path d="M681.6,957 L725.4,968"/><path d="M729,970 L790,975"/><path d="M833,914.8 L881.9,936.7"/><path d="M799,900.7 L881.9,943"/><path d="M842.8,964.8 L881.9,972.7"/><path d="M805,950.8 L881.9,980.5"/><path d="M805.2,983.6 L881.9,999.3"/><path d="M760,904 L800,900"/></g>
<g stroke="#1c1c1c" stroke-width="1.35" fill="none"><path d="M770.8,867.8 L739.5,1015.7"/><path d="M792.7,867.8 L813.8,1015.7"/><path d="M777.4,867.8 L755.8,1015.7"/><path d="M786.1,867.8 L797.5,1015.7"/><path d="M770.8,867.8 L794.0,876.7"/><path d="M792.7,867.8 L768.9,876.7"/><path d="M768.9,876.7 L794.0,876.7"/><path d="M770.8,867.8 L781.4,876.7"/><path d="M792.7,867.8 L781.4,876.7"/><path d="M781.8,867.8 L768.9,876.7"/><path d="M781.8,867.8 L794.0,876.7"/><path d="M768.9,876.7 L795.4,887.0"/><path d="M794.0,876.7 L766.7,887.0"/><path d="M766.7,887.0 L795.4,887.0"/><path d="M768.9,876.7 L781.1,887.0"/><path d="M794.0,876.7 L781.1,887.0"/><path d="M781.4,876.7 L766.7,887.0"/><path d="M781.4,876.7 L795.4,887.0"/><path d="M766.7,887.0 L797.1,898.9"/><path d="M795.4,887.0 L764.2,898.9"/><path d="M764.2,898.9 L797.1,898.9"/><path d="M766.7,887.0 L780.7,898.9"/><path d="M795.4,887.0 L780.7,898.9"/><path d="M781.1,887.0 L764.2,898.9"/><path d="M781.1,887.0 L797.1,898.9"/><path d="M764.2,898.9 L799.0,912.2"/><path d="M797.1,898.9 L761.4,912.2"/><path d="M761.4,912.2 L799.0,912.2"/><path d="M764.2,898.9 L780.2,912.2"/><path d="M797.1,898.9 L780.2,912.2"/><path d="M780.7,898.9 L761.4,912.2"/><path d="M780.7,898.9 L799.0,912.2"/><path d="M761.4,912.2 L801.1,927.0"/><path d="M799.0,912.2 L758.3,927.0"/><path d="M758.3,927.0 L801.1,927.0"/><path d="M761.4,912.2 L779.7,927.0"/><path d="M799.0,912.2 L779.7,927.0"/><path d="M780.2,912.2 L758.3,927.0"/><path d="M780.2,912.2 L801.1,927.0"/><path d="M758.3,927.0 L803.5,943.2"/><path d="M801.1,927.0 L754.8,943.2"/><path d="M754.8,943.2 L803.5,943.2"/><path d="M758.3,927.0 L779.1,943.2"/><path d="M801.1,927.0 L779.1,943.2"/><path d="M779.7,927.0 L754.8,943.2"/><path d="M779.7,927.0 L803.5,943.2"/><path d="M754.8,943.2 L806.0,961.0"/><path d="M803.5,943.2 L751.1,961.0"/><path d="M751.1,961.0 L806.0,961.0"/><path d="M754.8,943.2 L778.5,961.0"/><path d="M803.5,943.2 L778.5,961.0"/><path d="M779.1,943.2 L751.1,961.0"/><path d="M779.1,943.2 L806.0,961.0"/><path d="M751.1,961.0 L808.7,980.2"/><path d="M806.0,961.0 L747.0,980.2"/><path d="M747.0,980.2 L808.7,980.2"/><path d="M751.1,961.0 L777.9,980.2"/><path d="M806.0,961.0 L777.9,980.2"/><path d="M778.5,961.0 L747.0,980.2"/><path d="M778.5,961.0 L808.7,980.2"/><path d="M747.0,980.2 L811.3,998.0"/><path d="M808.7,980.2 L743.3,998.0"/><path d="M743.3,998.0 L811.3,998.0"/><path d="M747.0,980.2 L777.3,998.0"/><path d="M808.7,980.2 L777.3,998.0"/><path d="M777.9,980.2 L743.3,998.0"/><path d="M777.9,980.2 L811.3,998.0"/><path d="M743.3,998.0 L813.8,1015.7"/><path d="M811.3,998.0 L739.5,1015.7"/><path d="M739.5,1015.7 L813.8,1015.7"/><path d="M743.3,998.0 L776.6,1015.7"/><path d="M811.3,998.0 L776.6,1015.7"/><path d="M777.3,998.0 L739.5,1015.7"/><path d="M777.3,998.0 L813.8,1015.7"/></g>
<path d="M734,893.6 L767.6,878.8 L794,878.8 L831.8,890.5 L831.8,893.5 L780.8,897.6 L734,896.6 Z" fill="#555" fill-opacity="0.3" stroke="#1c1c1c" stroke-width="1.3"/><g stroke="#1c1c1c" stroke-width="0.9" fill="none"><path d="M734.0,893.6 L734.0,896.6"/><path d="M734.0,893.6 L740.7,896.7"/><path d="M734.0,896.6 L738.8,891.5"/><path d="M831.8,890.5 L831.8,893.5"/><path d="M831.8,890.5 L824.5,894.1"/><path d="M831.8,893.5 L826.4,888.8"/><path d="M738.8,891.5 L740.7,896.7"/><path d="M738.8,891.5 L747.4,896.9"/><path d="M740.7,896.7 L743.6,889.4"/><path d="M826.4,888.8 L824.5,894.1"/><path d="M826.4,888.8 L817.2,894.7"/><path d="M824.5,894.1 L821.0,887.2"/><path d="M743.6,889.4 L747.4,896.9"/><path d="M743.6,889.4 L754.1,897.0"/><path d="M747.4,896.9 L748.4,887.3"/><path d="M821.0,887.2 L817.2,894.7"/><path d="M821.0,887.2 L809.9,895.3"/><path d="M817.2,894.7 L815.6,885.5"/><path d="M748.4,887.3 L754.1,897.0"/><path d="M748.4,887.3 L760.7,897.2"/><path d="M754.1,897.0 L753.2,885.1"/><path d="M815.6,885.5 L809.9,895.3"/><path d="M815.6,885.5 L802.7,895.8"/><path d="M809.9,895.3 L810.2,883.8"/><path d="M753.2,885.1 L760.7,897.2"/><path d="M753.2,885.1 L767.4,897.3"/><path d="M760.7,897.2 L758.0,883.0"/><path d="M810.2,883.8 L802.7,895.8"/><path d="M810.2,883.8 L795.4,896.4"/><path d="M802.7,895.8 L804.8,882.1"/><path d="M758.0,883.0 L767.4,897.3"/><path d="M758.0,883.0 L774.1,897.5"/><path d="M767.4,897.3 L762.8,880.9"/><path d="M804.8,882.1 L795.4,896.4"/><path d="M804.8,882.1 L788.1,897.0"/><path d="M795.4,896.4 L799.4,880.5"/><path d="M762.8,880.9 L774.1,897.5"/><path d="M762.8,880.9 L780.8,897.6"/><path d="M774.1,897.5 L767.6,878.8"/><path d="M799.4,880.5 L788.1,897.0"/><path d="M799.4,880.5 L780.8,897.6"/><path d="M788.1,897.0 L794.0,878.8"/><path d="M767.6,878.8 L780.8,897.6"/><path d="M794.0,878.8 L780.8,897.6"/></g>
<path d="M727,941.4 L761.4,927.3 L800.5,927.3 L840.4,939.8 L840.4,942.8 L780.95,946.5 L727,944.4 Z" fill="#555" fill-opacity="0.3" stroke="#1c1c1c" stroke-width="1.3"/><g stroke="#1c1c1c" stroke-width="0.9" fill="none"><path d="M727.0,941.4 L727.0,944.4"/><path d="M727.0,941.4 L734.7,944.7"/><path d="M727.0,944.4 L731.9,939.4"/><path d="M840.4,939.8 L840.4,942.8"/><path d="M840.4,939.8 L831.9,943.3"/><path d="M840.4,942.8 L834.7,938.0"/><path d="M731.9,939.4 L734.7,944.7"/><path d="M731.9,939.4 L742.4,945.0"/><path d="M734.7,944.7 L736.8,937.4"/><path d="M834.7,938.0 L831.9,943.3"/><path d="M834.7,938.0 L823.4,943.9"/><path d="M831.9,943.3 L829.0,936.2"/><path d="M736.8,937.4 L742.4,945.0"/><path d="M736.8,937.4 L750.1,945.3"/><path d="M742.4,945.0 L741.7,935.4"/><path d="M829.0,936.2 L823.4,943.9"/><path d="M829.0,936.2 L814.9,944.4"/><path d="M823.4,943.9 L823.3,934.4"/><path d="M741.7,935.4 L750.1,945.3"/><path d="M741.7,935.4 L757.8,945.6"/><path d="M750.1,945.3 L746.7,933.3"/><path d="M823.3,934.4 L814.9,944.4"/><path d="M823.3,934.4 L806.4,944.9"/><path d="M814.9,944.4 L817.6,932.7"/><path d="M746.7,933.3 L757.8,945.6"/><path d="M746.7,933.3 L765.5,945.9"/><path d="M757.8,945.6 L751.6,931.3"/><path d="M817.6,932.7 L806.4,944.9"/><path d="M817.6,932.7 L797.9,945.4"/><path d="M806.4,944.9 L811.9,930.9"/><path d="M751.6,931.3 L765.5,945.9"/><path d="M751.6,931.3 L773.2,946.2"/><path d="M765.5,945.9 L756.5,929.3"/><path d="M811.9,930.9 L797.9,945.4"/><path d="M811.9,930.9 L789.4,946.0"/><path d="M797.9,945.4 L806.2,929.1"/><path d="M756.5,929.3 L773.2,946.2"/><path d="M756.5,929.3 L781.0,946.5"/><path d="M773.2,946.2 L761.4,927.3"/><path d="M806.2,929.1 L789.4,946.0"/><path d="M806.2,929.1 L781.0,946.5"/><path d="M789.4,946.0 L800.5,927.3"/><path d="M761.4,927.3 L781.0,946.5"/><path d="M800.5,927.3 L781.0,946.5"/></g>
<g stroke="#2a2a2a" stroke-width="1.3" fill="none"><path d="M734.8,895 V911.6 M831,892.5 V907 M727.7,943.5 V963.3 M839.6,941.5 V957"/></g>
<g fill="#fafafa" stroke="#333" stroke-width="1.1">
<path d="M730.0999999999999,911.6 h9.4 v2.5 a4.7,6 0 0 1 -9.4,0 z"/>
<path d="M826.0999999999999,907 h9.4 v2.5 a4.7,6 0 0 1 -9.4,0 z"/>
<path d="M723.0,963.3 h9.4 v2.5 a4.7,6 0 0 1 -9.4,0 z"/>
<path d="M834.9,957 h9.4 v2.5 a4.7,6 0 0 1 -9.4,0 z"/>
</g>
<path d="M775.6,863 L775.6,670 Q775.6,657 788.6,657 L857,657" fill="none" stroke="#111" stroke-width="4.6" stroke-linecap="round"/>
<path d="M807,649.5 L825,657 L807,664.5 L812,657 Z" fill="#111"/>
<text transform="translate(811.3,864.5) rotate(-90)" font-family="Liberation Sans" font-weight="bold" font-size="31" fill="#111">Utility Power</text>
<text x="853.4" y="890.4" font-family="Liberation Sans" font-weight="bold" font-size="31" fill="#111" textLength="59.7" lengthAdjust="spacingAndGlyphs">Grid</text>

<!-- wires behind batteries -->
<g fill="none" stroke-linejoin="round">
  <!-- black wire from inverter to battery 1 -->
  <path d="M1258.7,647 L1258.7,986 Q1258.7,998.3 1246,998.3 L1082,998.3 Q1070,998.3 1070,1010 L1070,1063" stroke="#141414" stroke-width="5"/>
  <!-- black wire battery1 to battery2 -->
  <path d="M1072.5,1063 L1072.5,1031 Q1072.5,1019.8 1084,1019.8 L1242,1019.8 Q1253.3,1019.8 1253.3,1031 L1253.3,1074" stroke="#141414" stroke-width="5"/>
  <!-- red wire battery1 to battery2 -->
  <path d="M1110,1072 L1110,1047 Q1110,1036.7 1120,1036.7 L1274,1036.7 Q1284,1036.7 1284,1047 L1284,1080" stroke="#b8161a" stroke-width="5"/>
  <!-- red input wire -->
  <path d="M1299,563.5 Q1330.8,562 1330.8,585 L1330.8,1066 Q1330.8,1079.7 1317,1079.7 L1296,1080" stroke="#8e1418" stroke-width="5"/>
</g>
<path d="M1183,998.3 L1197,991.5 L1194,998.3 L1197,1005 Z" fill="#141414" stroke="#141414" stroke-width="1.5"/>
<path d="M1324,682 L1330.8,698 L1337.6,682 L1330.8,686 Z" fill="#8e1418"/>
<!-- battery 1 -->
<path d="M854,1078 L857,1075.7 L1068.6,1063.4 L1093,1065.6 L1131,1077 L1131,1246 L887.5,1253.4 L858.4,1224.4 L858.4,1120 L854,1117 Z" fill="#070707"/>
<path d="M854,1078 L857,1075.7 L1068.6,1063.4 L1093,1065.6 L1131,1077 L1131,1110 L888,1119 L858.4,1120 L854,1117 Z" fill="#161616"/>
<path d="M857,1076 L1068.6,1063.4 L1093,1065.6 L1131,1077 L889,1091.4 Z" fill="#0e0e0e"/>
<path d="M889.7,1091.4 L1068.6,1081.3" stroke="#4a4a4a" stroke-width="1.6"/>
<path d="M888.6,1105.9 L1044,1095.8" stroke="#3a3a3a" stroke-width="1.6"/>
<path d="M858.4,1120 L887.5,1119 L887.5,1253.4 L858.4,1224.4 Z" fill="#101010"/>
<path d="M888,1119 L1131,1110" stroke="#222" stroke-width="1.2"/>
<rect x="1062" y="1061" width="14" height="2.5" fill="#bbb"/><rect x="1068" y="1063" width="3" height="6" fill="#999"/>
<ellipse cx="1110" cy="1073" rx="8" ry="4" fill="#a8141c"/>
<!-- battery 2 -->
<path d="M1046,1093 L1050.7,1091.4 L1132.5,1083.4 L1280.3,1077 L1323.6,1088.9 L1324.5,1112 L1321.8,1114 L1321.8,1241.2 L1075.7,1266.8 L1049.5,1240 L1049.5,1132 L1046,1129 Z" fill="#070707"/>
<path d="M1046,1093 L1050.7,1091.4 L1132.5,1083.4 L1280.3,1077 L1323.6,1088.9 L1324.5,1112 L1080,1121 L1049.5,1132 L1046,1129 Z" fill="#161616"/>
<path d="M1050.7,1091.4 L1132.5,1083.4 L1280.3,1077 L1323.6,1088.9 L1082,1103.7 Z" fill="#0e0e0e"/>
<path d="M1082,1103.7 L1294.8,1095.2" stroke="#4a4a4a" stroke-width="1.6"/>
<path d="M1080.9,1118.2 L1291.2,1105" stroke="#3a3a3a" stroke-width="1.6"/>
<path d="M1049.5,1132 L1080,1121 L1080,1266.5 L1075.7,1266.8 L1049.5,1240 Z" fill="#111"/>
<rect x="1247" y="1073" width="14" height="2.5" fill="#bbb"/><rect x="1252" y="1075" width="3" height="7" fill="#999"/>
<ellipse cx="1297" cy="1086" rx="9" ry="4" fill="#a8141c"/>
<path d="M1275,1216 L1293,1215" stroke="#1c1c1c" stroke-width="2.5"/>

<!-- arrows -->
<!-- AC load arrow -->
<path d="M1096,483 L1096,406" stroke="#111" stroke-width="6.4"/>
<path d="M1088.5,437.5 L1096,415 L1103.5,437.5 L1096,433 Z" fill="#111"/>
<!-- up arrow into inverter -->
<path d="M1095.2,971 L1095.2,812" stroke="#111" stroke-width="5"/>
<path d="M1087.8,815.5 L1095.2,792 L1102.6,815.5 Z" fill="#111"/>
<!-- controller to battery -->
<path d="M531.7,1154 L856.5,1154" stroke="#111" stroke-width="5"/>
<path d="M697.4,1146 L713.5,1154 L697.4,1161.5 Z" fill="#111"/>
<text transform="translate(1322.8,971.5) rotate(-90)" font-family="Liberation Sans" font-weight="bold" font-size="31" fill="#111">Input 12v/24v DC</text>
<g font-family="Liberation Serif" fill="#111" stroke="#fff" stroke-width="0.7"><text transform="translate(44.72 734) scale(0.484 1)" font-size="56.0">W</text><text transform="translate(76.27 734) scale(1.050 1)" font-size="56.0">i</text><text transform="translate(98.86 734) scale(0.889 1)" font-size="56.0">n</text><text transform="translate(125.16 734) scale(0.909 1)" font-size="56.0">d</text><text transform="translate(178.95 734) scale(0.790 1)" font-size="56.0">T</text><text transform="translate(207.35 734) scale(0.874 1)" font-size="56.0">u</text><text transform="translate(236.38 734) scale(1.050 1)" font-size="56.0">r</text><text transform="translate(262.00 734) scale(0.889 1)" font-size="56.0">b</text><text transform="translate(292.27 734) scale(1.050 1)" font-size="56.0">i</text><text transform="translate(314.86 734) scale(0.889 1)" font-size="56.0">n</text><text transform="translate(341.32 734) scale(1.050 1)" font-size="56.0">e</text></g><g font-family="Liberation Serif" fill="#111" stroke="#fff" stroke-width="0.7"><text transform="translate(43.04 828) scale(0.701 1)" font-size="56.0">G</text><text transform="translate(71.22 828) scale(1.050 1)" font-size="56.0">e</text><text transform="translate(98.76 828) scale(0.889 1)" font-size="56.0">n</text><text transform="translate(125.22 828) scale(1.050 1)" font-size="56.0">e</text><text transform="translate(155.28 828) scale(1.050 1)" font-size="56.0">r</text><text transform="translate(178.85 828) scale(1.040 1)" font-size="56.0">a</text><text transform="translate(211.12 828) scale(1.050 1)" font-size="56.0">t</text><text transform="translate(232.83 828) scale(0.969 1)" font-size="56.0">o</text><text transform="translate(263.28 828) scale(1.050 1)" font-size="56.0">r</text></g><g font-family="Liberation Serif" fill="#111" stroke="#fff" stroke-width="0.7"><text transform="translate(2.82 1160.8) scale(0.484 1)" font-size="56.0">W</text><text transform="translate(34.37 1160.8) scale(1.050 1)" font-size="56.0">i</text><text transform="translate(56.96 1160.8) scale(0.889 1)" font-size="56.0">n</text><text transform="translate(83.26 1160.8) scale(0.909 1)" font-size="56.0">d</text><text transform="translate(136.97 1160.8) scale(0.548 1)" font-size="56.0">M</text><text transform="translate(165.27 1160.8) scale(0.923 1)" font-size="56.0">p</text><text transform="translate(192.27 1160.8) scale(0.923 1)" font-size="56.0">p</text><text transform="translate(223.32 1160.8) scale(1.050 1)" font-size="56.0">t</text></g><g font-family="Liberation Serif" fill="#111" stroke="#fff" stroke-width="0.7"><text transform="translate(0.72 1256.5) scale(0.798 1)" font-size="56.0">C</text><text transform="translate(28.73 1256.5) scale(0.969 1)" font-size="56.0">o</text><text transform="translate(56.66 1256.5) scale(0.889 1)" font-size="56.0">n</text><text transform="translate(88.02 1256.5) scale(1.050 1)" font-size="56.0">t</text><text transform="translate(113.18 1256.5) scale(1.050 1)" font-size="56.0">r</text><text transform="translate(136.73 1256.5) scale(0.969 1)" font-size="56.0">o</text><text transform="translate(169.13 1256.5) scale(1.050 1)" font-size="56.0">l</text><text transform="translate(196.13 1256.5) scale(1.050 1)" font-size="56.0">l</text><text transform="translate(218.12 1256.5) scale(1.050 1)" font-size="56.0">e</text><text transform="translate(248.18 1256.5) scale(1.050 1)" font-size="56.0">r</text></g><g font-family="Liberation Serif" fill="#111" stroke="#fff" stroke-width="0.7"><text transform="translate(998.80 393.5) scale(0.646 1)" font-size="56.0">A</text><text transform="translate(1024.32 393.5) scale(0.798 1)" font-size="56.0">C</text><text transform="translate(1084.73 393.5) scale(1.050 1)" font-size="56.0">l</text><text transform="translate(1106.33 393.5) scale(0.969 1)" font-size="56.0">o</text><text transform="translate(1133.35 393.5) scale(1.040 1)" font-size="56.0">a</text><text transform="translate(1160.56 393.5) scale(0.909 1)" font-size="56.0">d</text></g><g font-family="Liberation Serif" fill="#111" stroke="#fff" stroke-width="0.7"><text transform="translate(727.26 516.5) scale(0.669 1)" font-size="56.0">U</text><text transform="translate(753.74 516.5) scale(0.934 1)" font-size="56.0">P</text><text transform="translate(778.71 516.5) scale(1.050 1)" font-size="56.0">S</text><text transform="translate(812.58 516.5) scale(1.050 1)" font-size="56.0">I</text><text transform="translate(836.96 516.5) scale(0.889 1)" font-size="56.0">n</text><text transform="translate(865.30 516.5) scale(0.821 1)" font-size="56.0">v</text><text transform="translate(890.82 516.5) scale(1.050 1)" font-size="56.0">e</text><text transform="translate(921.08 516.5) scale(1.050 1)" font-size="56.0">r</text><text transform="translate(950.12 516.5) scale(1.050 1)" font-size="56.0">t</text><text transform="translate(972.42 516.5) scale(1.050 1)" font-size="56.0">e</text><text transform="translate(1002.68 516.5) scale(1.050 1)" font-size="56.0">r</text></g><g font-family="Liberation Serif" fill="#111" stroke="#fff" stroke-width="0.7"><text transform="translate(951.50 1351.8) scale(0.773 1)" font-size="56.0">B</text><text transform="translate(979.10 1351.8) scale(1.040 1)" font-size="56.0">a</text><text transform="translate(1011.52 1351.8) scale(1.050 1)" font-size="56.0">t</text><text transform="translate(1038.67 1351.8) scale(1.050 1)" font-size="56.0">t</text><text transform="translate(1060.92 1351.8) scale(1.050 1)" font-size="56.0">e</text><text transform="translate(1091.13 1351.8) scale(1.050 1)" font-size="56.0">r</text><text transform="translate(1116.32 1351.8) scale(0.849 1)" font-size="56.0">y</text><text transform="translate(1168.34 1351.8) scale(0.701 1)" font-size="56.0">G</text><text transform="translate(1199.73 1351.8) scale(1.050 1)" font-size="56.0">r</text><text transform="translate(1223.43 1351.8) scale(0.969 1)" font-size="56.0">o</text><text transform="translate(1252.00 1351.8) scale(0.874 1)" font-size="56.0">u</text><text transform="translate(1278.97 1351.8) scale(0.923 1)" font-size="56.0">p</text></g>

</svg>
</body></html>
